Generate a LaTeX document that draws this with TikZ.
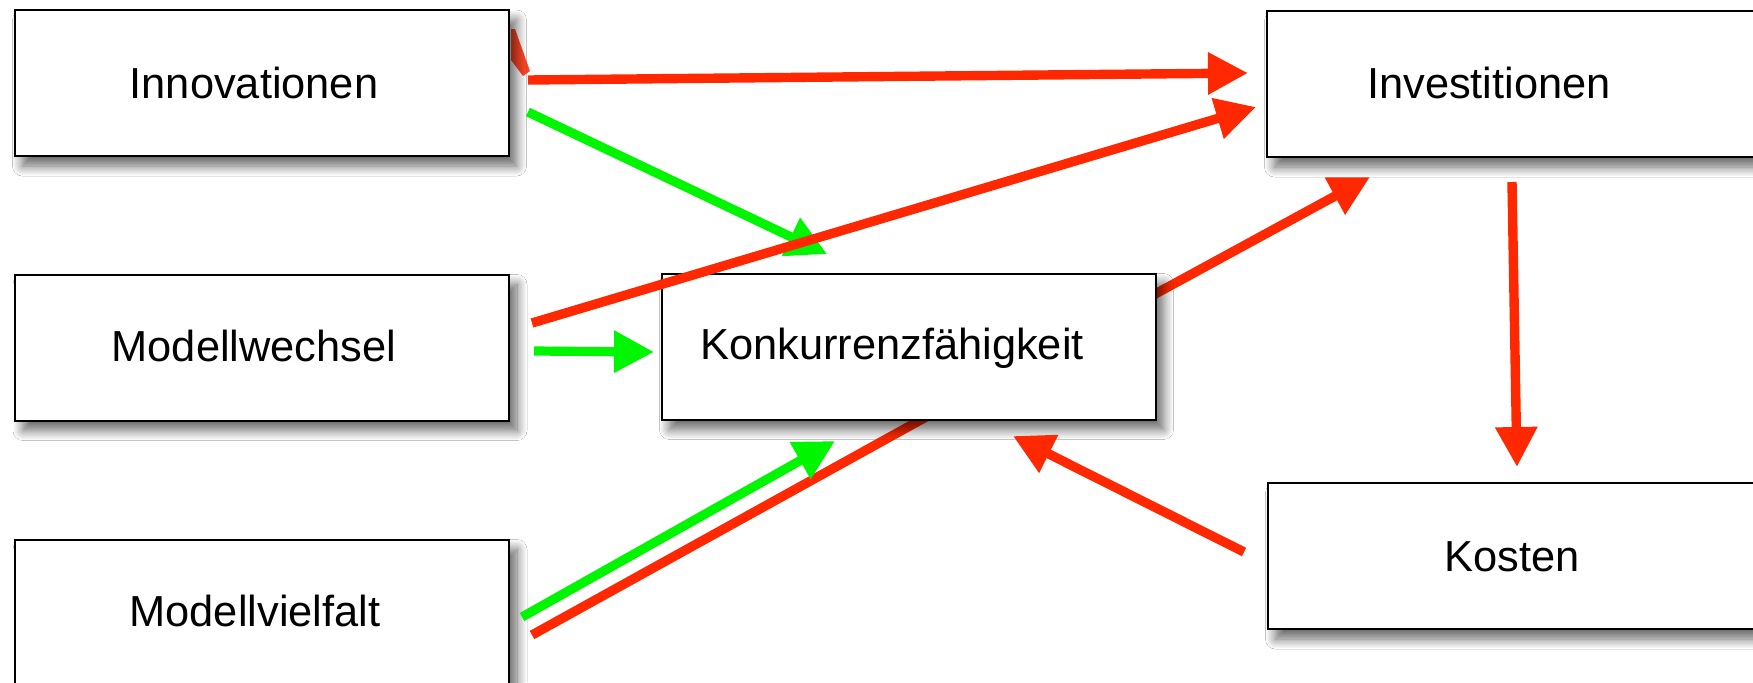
\documentclass[tikz,border=0pt]{standalone}
\usepackage{fontspec}
\setmainfont{Liberation Sans}
\usetikzlibrary{arrows.meta,shadows.blur}
\definecolor{arrred}{RGB}{255,40,0}
\definecolor{arrgreen}{RGB}{0,245,0}
\begin{document}
\begin{tikzpicture}[x=0.5pt,y=-0.5pt,
  box/.style={draw=black, line width=1pt, fill=white, inner sep=0pt,
    minimum width=247pt, minimum height=73pt,
    blur shadow={shadow xshift=4pt, shadow yshift=-5pt, shadow blur radius=5pt,
      shadow blur steps=12, shadow opacity=60}},
  lbl/.style={anchor=base, font=\fontsize{21.7pt}{26pt}\selectfont, inner sep=0pt},
  redline/.style={draw=arrred, line width=4.7pt},
  greenline/.style={draw=arrgreen, line width=4.6pt},
  headtip/.style={-{Triangle[length=20pt,width=20pt]}}
]
\useasboundingbox (0,0) rectangle (1753,682);
\fill[white] (0,0) rectangle (1753,682);

% connector end points
\coordinate (s1) at (528,80);   \coordinate (e1) at (1248,73);
\coordinate (s2) at (532,323);  \coordinate (e2) at (1256,107);
\coordinate (s3) at (1100,324); \coordinate (e3) at (1370,177);
\coordinate (s4) at (528,112);  \coordinate (e4) at (827,254);
\coordinate (s5) at (534,351);  \coordinate (e5) at (654,352);
\coordinate (s6) at (522,617);  \coordinate (e6) at (835,441);
\coordinate (s7) at (532,635);  \coordinate (e7) at (1000,376);
\coordinate (s8) at (1512,182); \coordinate (e8) at (1517,467);
\coordinate (s9) at (1244,552); \coordinate (e9) at (1013,436);

% connectors partly hidden behind the boxes
\draw[redline, headtip] (s3) -- (e3);
\draw[redline] (s7) -- (e7);
\fill[arrred, opacity=0.85] (511,29) -- (515,29) -- (530,71) -- (523,76) -- (511,60) -- cycle;

% boxes
\node[box] (inno) at (261.5,83) {};
\node[box] (mwech) at (262,347.5) {};
\node[box] (mviel) at (262,612.5) {};
\node[box] (konk) at (908.5,346.5) {};
\node[box] (inv) at (1513.5,84) {};
\node[box] (kost) at (1514.5,556) {};

% texts
\node[lbl] (innoT) at (254,98) {Innovationen};
\node[lbl] (mwechT) at (254,361) {Modellwechsel};
\node[lbl] (mvielT) at (255,626) {Modellvielfalt};
\node[lbl] (konkT) at (892,359) {Konkurrenzfähigkeit};
\node[lbl] (invT) at (1489,98) {Investitionen};
\node[lbl] (kostT) at (1512,571) {Kosten};

% green arrows
\draw[greenline, headtip] (s4) -- (e4);
\draw[greenline, headtip] (s5) -- (e5);
\draw[greenline, headtip] (s6) -- (e6);

% red arrows
\draw[redline, headtip] (s1) -- (e1);
\draw[redline, headtip] (s2) -- (e2);
\draw[redline, headtip] (s8) -- (e8);
\draw[redline, headtip] (s9) -- (e9);
\end{tikzpicture}
\end{document}
